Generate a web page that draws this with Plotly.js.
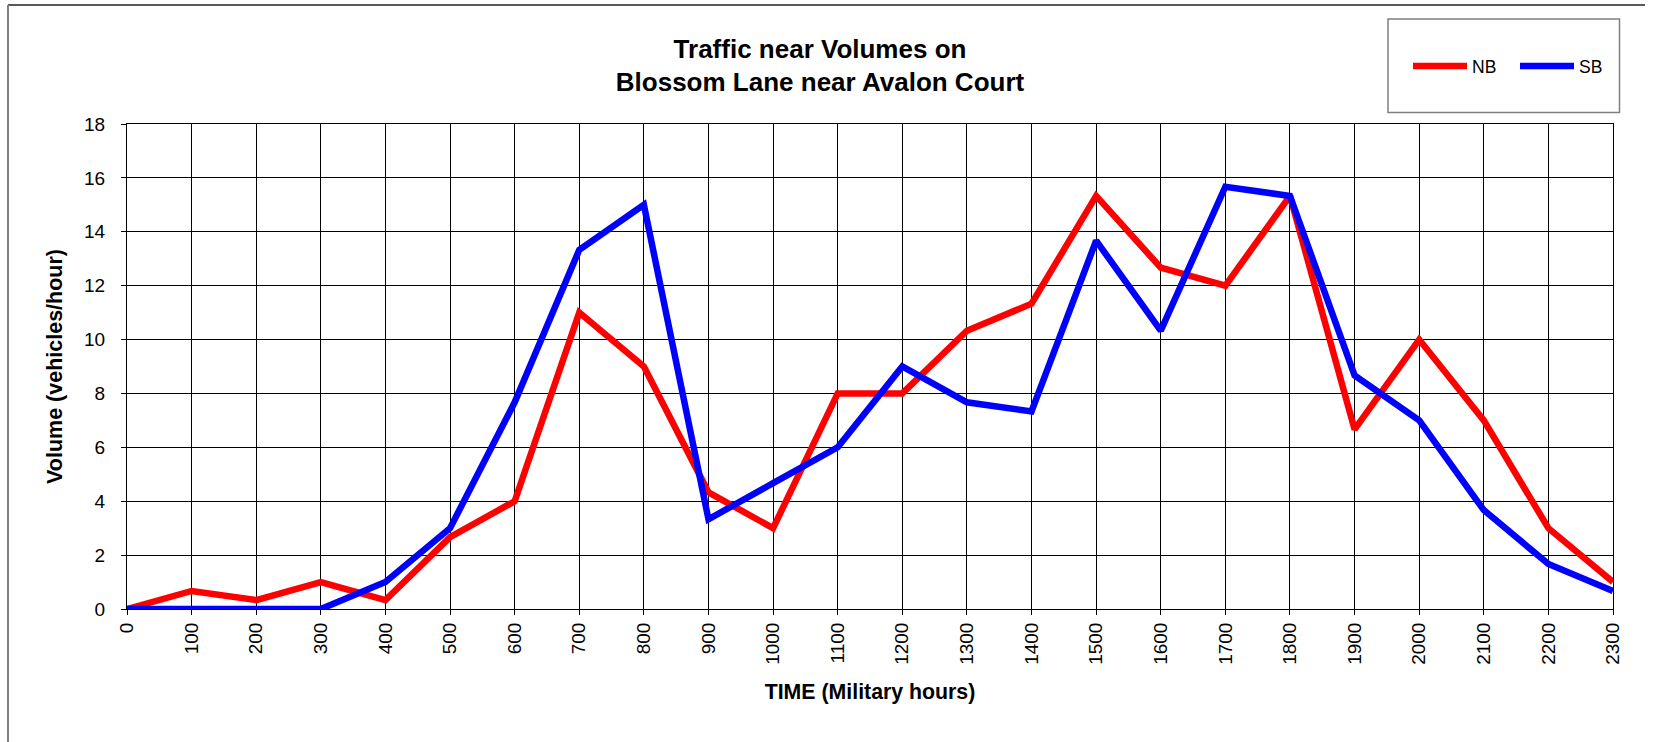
<!DOCTYPE html>
<html>
<head>
<meta charset="utf-8">
<script src="https://cdn.plot.ly/plotly-3.0.1.min.js"></script>
<style>
  html, body { margin: 0; padding: 0; background: #fff; }
  #chart { width: 1653px; height: 742px; }
</style>
</head>
<body>
<div id="chart"></div>
<script>
// ---- data ----
const categories = ["0","100","200","300","400","500","600","700","800","900","1000","1100",
                    "1200","1300","1400","1500","1600","1700","1800","1900","2000","2100","2200","2300"];
const nbValues = [0, 0.67, 0.33, 1, 0.33, 2.67, 4, 11, 9, 4.33, 3, 8,
                  8, 10.33, 11.33, 15.33, 12.67, 12, 15.33, 6.67, 10, 7, 3, 1];
const sbValues = [0, 0, 0, 0, 1, 3, 7.67, 13.33, 15, 3.33, 4.67, 6,
                  9, 7.67, 7.33, 13.67, 10.33, 15.67, 15.33, 8.67, 7, 3.67, 1.67, 0.67];
const seriesNames = ["NB", "SB"];
const yTicks = [0, 2, 4, 6, 8, 10, 12, 14, 16, 18];

// ---- layout helpers ----
const W = 1653, H = 742;
const M = { l: 127, r: 40, t: 124, b: 133 };
const PW = W - M.l - M.r, PH = H - M.t - M.b;
const fx = px => (px - M.l) / PW;
const fy = py => (H - M.b - py) / PH;

const FONT = "Liberation Sans, Arial, Helvetica, sans-serif";

const traces = [
  { x: categories, y: nbValues, name: seriesNames[0], type: "scatter", mode: "lines",
    line: { color: "#FF0000", width: 6.5 } },
  { x: categories, y: sbValues, name: seriesNames[1], type: "scatter", mode: "lines",
    line: { color: "#0000FF", width: 6.5 } }
];

const layout = {
  width: W, height: H,
  margin: M,
  paper_bgcolor: "#ffffff",
  plot_bgcolor: "#ffffff",
  font: { family: FONT, color: "#000" },
  title: {
    text: "Traffic near Volumes on<br>Blossom Lane near Avalon Court",
    font: { family: FONT, size: 26, weight: "bold", color: "#000" },
    xref: "container", x: 820 / W, xanchor: "center",
    yref: "container", y: 1 - 57.5 / H, yanchor: "top"
  },
  xaxis: {
    type: "category",
    range: [0, categories.length - 1],
    tickmode: "array", tickvals: categories, ticktext: categories,
    tickangle: -90,
    tickfont: { family: FONT, size: 19, color: "#000" },
    ticks: "outside", ticklen: 5, tickcolor: "#000", tickwidth: 1,
    showgrid: true, gridcolor: "#000", gridwidth: 1,
    showline: true, linecolor: "#000", linewidth: 1, mirror: true,
    zeroline: false,
    title: { text: "TIME (Military hours)", standoff: 20,
             font: { family: FONT, size: 21.3, weight: "bold", color: "#000" } },
    automargin: false
  },
  yaxis: {
    range: [0, 18],
    tickmode: "array", tickvals: yTicks,
    tickfont: { family: FONT, size: 19, color: "#000" },
    ticks: "outside", ticklen: 5, tickcolor: "#000", tickwidth: 1,
    ticklabelstandoff: 12,
    showgrid: true, gridcolor: "#000", gridwidth: 1,
    showline: true, linecolor: "#000", linewidth: 1, mirror: true,
    zeroline: false,
    title: { text: "Volume (vehicles/hour)", standoff: 15,
             font: { family: FONT, size: 21.5, weight: "bold", color: "#000" } },
    automargin: false
  },
  showlegend: true,
  legend: {
    orientation: "h",
    x: fx(1408), xanchor: "left",
    y: fy(66), yanchor: "middle",
    bgcolor: "rgba(0,0,0,0)", borderwidth: 0,
    font: { family: FONT, size: 17.5, color: "#000" },
    itemwidth: 54,
    entrywidth: 38, entrywidthmode: "pixels",
    traceorder: "normal"
  },
  shapes: [
    // legend box
    { type: "rect", xref: "paper", yref: "paper",
      x0: fx(1388), x1: fx(1619.5), y0: fy(112.5), y1: fy(19),
      line: { color: "#808080", width: 1.5 }, fillcolor: "rgba(0,0,0,0)", layer: "below" },
    // outer chart frame (top and left edges)
    { type: "line", xref: "paper", yref: "paper",
      x0: fx(8), x1: fx(1645), y0: fy(5), y1: fy(5),
      line: { color: "#222", width: 1.5 } },
    { type: "line", xref: "paper", yref: "paper",
      x0: fx(8), x1: fx(8), y0: fy(5), y1: fy(742),
      line: { color: "#808080", width: 2 } }
  ]
};

Plotly.newPlot("chart", traces, layout, { displayModeBar: false, staticPlot: true });
</script>
</body>
</html>
